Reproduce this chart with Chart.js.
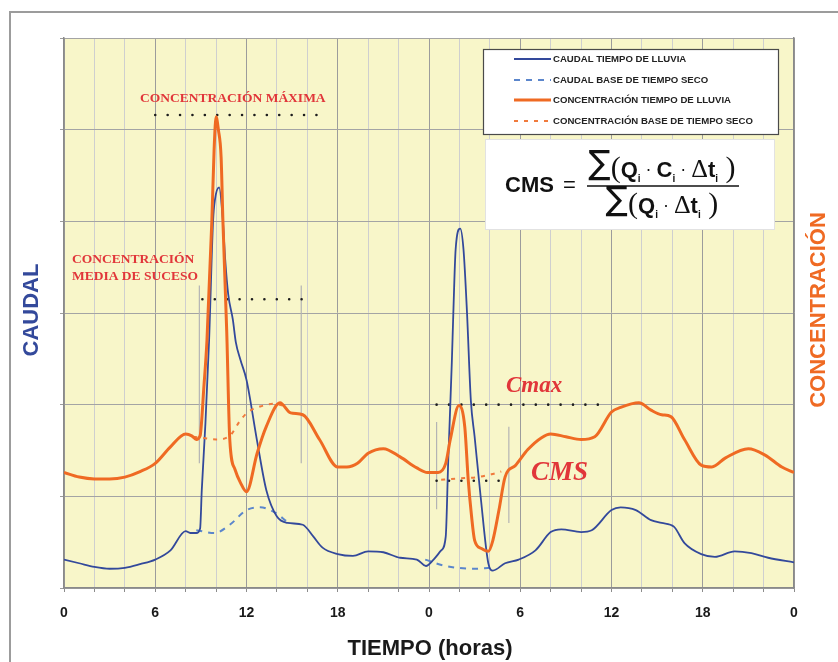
<!DOCTYPE html>
<html>
<head>
<meta charset="utf-8">
<script src="https://cdn.jsdelivr.net/npm/chart.js@4.4.1/dist/chart.umd.min.js"></script>
<style>
  html, body { margin: 0; padding: 0; background: #fff; }
</style>
</head>
<body>
<canvas id="grafico" width="838" height="662"></canvas>
<script>
// horas (eje x de 0 a 48: dos días) y valores
const etiquetasHoras = ["0", "6", "12", "18", "0", "6", "12", "18", "0"];

const horasCaudal = [0, 1, 2, 3, 4, 5, 6, 7, 8, 8.3, 8.7, 8.95, 9.06, 9.3, 9.54, 9.8, 9.93, 10.2, 10.44, 10.6, 10.8, 11.1, 11.3, 11.6, 12, 12.7, 13.3, 14, 14.7, 15.7, 16.4, 17, 18, 19, 20, 21, 22.1, 23.2, 23.8, 24.3, 24.8, 25.1, 25.26, 25.5, 25.6, 25.75, 26.05, 26.27, 26.5, 26.75, 27, 27.4, 27.9, 28.2, 29, 29.9, 31, 32, 32.7, 34, 34.7, 36, 36.6, 37.6, 38.6, 39.3, 40.1, 40.8, 41.9, 42.8, 44.1, 45.2, 46.3, 48];
const caudalLluvia = [0.31, 0.27, 0.23, 0.21, 0.22, 0.26, 0.31, 0.41, 0.62, 0.60, 0.60, 0.65, 1.07, 1.8, 2.7, 4.0, 4.24, 4.37, 4.02, 3.58, 3.2, 2.93, 2.68, 2.49, 2.27, 1.6, 1.07, 0.78, 0.71, 0.69, 0.56, 0.44, 0.37, 0.35, 0.40, 0.39, 0.33, 0.31, 0.24, 0.31, 0.41, 0.56, 1.36, 2.46, 3.0, 3.69, 3.92, 3.69, 3.0, 2.05, 1.65, 0.99, 0.27, 0.19, 0.27, 0.31, 0.41, 0.61, 0.64, 0.61, 0.63, 0.85, 0.88, 0.85, 0.74, 0.71, 0.67, 0.49, 0.37, 0.34, 0.40, 0.38, 0.33, 0.28];

const horasCaudalSeco1 = [8.7, 9.9, 10.9, 12.0, 12.9, 13.8, 14.7];
const caudalSeco1 = [0.63, 0.60, 0.69, 0.85, 0.88, 0.83, 0.72];
const horasCaudalSeco2 = [23.75, 25.1, 27, 28];
const caudalSeco2 = [0.31, 0.24, 0.21, 0.22];

const horasConc = [0, 1, 2, 3, 4, 5, 6, 7, 8, 8.4, 8.7, 8.95, 9.2, 9.4, 9.72, 9.87, 10.0, 10.15, 10.33, 10.45, 10.7, 10.9, 11.25, 11.6, 12.0, 12.7, 13.3, 14.2, 14.9, 15.7, 16.8, 18, 18.6, 19.3, 20, 21, 22.1, 23.2, 23.9, 24.6, 25.1, 25.4, 25.97, 26.35, 26.58, 26.8, 27.0, 27.45, 27.9, 28.2, 28.6, 29, 29.7, 30.5, 31.4, 32, 33, 34, 34.9, 36, 36.6, 37.8, 38.6, 39.3, 39.9, 40.8, 41.9, 42.6, 43.5, 45, 46.1, 47.2, 48];
const concLluvia = [1.26, 1.21, 1.19, 1.19, 1.21, 1.27, 1.36, 1.54, 1.68, 1.66, 1.62, 1.66, 2.2, 2.7, 4.0, 4.78, 5.14, 5.0, 4.7, 4.0, 2.8, 1.62, 1.29, 1.15, 1.05, 1.47, 1.76, 2.02, 1.91, 1.89, 1.62, 1.32, 1.32, 1.36, 1.47, 1.52, 1.43, 1.31, 1.26, 1.26, 1.36, 1.62, 1.99, 1.76, 1.18, 0.78, 0.52, 0.43, 0.40, 0.52, 0.85, 1.21, 1.34, 1.51, 1.64, 1.68, 1.65, 1.62, 1.65, 1.92, 1.97, 2.02, 1.94, 1.89, 1.87, 1.62, 1.34, 1.32, 1.42, 1.52, 1.45, 1.32, 1.26];

const horasConcSeco1 = [8.5, 9.4, 10.0, 10.9, 11.6, 12.1, 12.9, 13.8, 14.4];
const concSeco1 = [1.65, 1.63, 1.62, 1.66, 1.83, 1.92, 1.98, 2.01, 1.99];
const horasConcSeco2 = [24.8, 25.47, 26.35, 27.22, 28.1, 28.75];
const concSeco2 = [1.18, 1.19, 1.20, 1.21, 1.24, 1.27];

// niveles punteados (Cmax y CMS) y líneas verticales de inicio/fin de suceso
const nivelesHoras = [[6.0, 16.7], [9.1, 15.7], [24.5, 35.3], [24.5, 28.8]];
const nivelesValor = [5.16, 3.15, 2.0, 1.17];
const limitesHora = [8.9, 15.6, 24.5, 29.25];
const limitesValor = [[3.3, 1.36], [3.3, 1.36], [1.81, 0.86], [1.76, 0.71]];

const azul = '#33499b';
const azulClaro = '#5b86cc';
const naranja = '#ef6a23';
const rojo = '#e1363a';

function puntos(hs, vs) {
  return hs.map((h, i) => ({ x: h, y: vs[i] }));
}
function conCorte(h1, v1, h2, v2) {
  return puntos(h1, v1).concat([{ x: h1[h1.length - 1], y: null }], puntos(h2, v2));
}

const series = [
  { label: 'CAUDAL TIEMPO DE LLUVIA', data: puntos(horasCaudal, caudalLluvia),
    borderColor: azul, borderWidth: 1.8, yAxisID: 'y' },
  { label: 'CAUDAL BASE DE TIEMPO SECO', data: conCorte(horasCaudalSeco1, caudalSeco1, horasCaudalSeco2, caudalSeco2),
    borderColor: azulClaro, borderWidth: 2, borderDash: [6, 6], yAxisID: 'y' },
  { label: 'CONCENTRACIÓN TIEMPO DE LLUVIA', data: puntos(horasConc, concLluvia),
    borderColor: naranja, borderWidth: 3, yAxisID: 'y1' },
  { label: 'CONCENTRACIÓN BASE DE TIEMPO SECO', data: conCorte(horasConcSeco1, concSeco1, horasConcSeco2, concSeco2),
    borderColor: '#f07a3c', borderWidth: 2, borderDash: [4, 6], yAxisID: 'y1' }
];
// orden de dibujo: naranja encima del azul
const datasets = [series[2], series[3], series[0], series[1]];

nivelesHoras.forEach((hs, i) => {
  datasets.push({
    label: 'nivel', data: puntos(hs, [nivelesValor[i], nivelesValor[i]]),
    borderColor: '#1d1d1d', borderWidth: 2.6, borderDash: [0, 12.4], borderCapStyle: 'round', yAxisID: 'y1'
  });
});
limitesHora.forEach((h, i) => {
  datasets.push({
    label: 'limite', data: puntos([h, h], limitesValor[i]),
    borderColor: '#b4b4b4', borderWidth: 1.2, yAxisID: 'y1'
  });
});
datasets.forEach(d => {
  d.pointRadius = 0;
  d.fill = false;
  d.cubicInterpolationMode = 'monotone';
  d.spanGaps = false;
});

function vertical(ctx, txt, x, y, color) {
  ctx.save();
  ctx.translate(x, y);
  ctx.rotate(-Math.PI / 2);
  ctx.fillStyle = color;
  ctx.fillText(txt, 0, 0);
  ctx.restore();
}

function tramo(ctx, x, y, partes, medir) {
  for (const [t, f, dy] of partes) {
    ctx.font = f;
    if (!medir) ctx.fillText(t, x, y + (dy || 0));
    x += ctx.measureText(t).width;
  }
  return x;
}

const fondo = {
  id: 'fondo',
  beforeDraw(chart) {
    const { ctx, chartArea: a } = chart;
    ctx.save();
    ctx.fillStyle = '#fff';
    ctx.fillRect(0, 0, chart.width, chart.height);
    ctx.strokeStyle = '#9c9c9c';
    ctx.lineWidth = 2;
    ctx.beginPath();
    ctx.moveTo(10, chart.height);
    ctx.lineTo(10, 12);
    ctx.lineTo(chart.width, 12);
    ctx.stroke();
    ctx.fillStyle = '#f8f6c9';
    ctx.fillRect(a.left, a.top, a.width, a.height);
    ctx.restore();
  }
};

const rotulos = {
  id: 'rotulos',
  afterDraw(chart) {
    const ctx = chart.ctx;
    ctx.save();
    ctx.textBaseline = 'middle';
    ctx.textAlign = 'center';
    ctx.font = 'bold 22px "Liberation Sans", Arial, sans-serif';
    ctx.fillStyle = '#1a1a1a';
    ctx.fillText('TIEMPO (horas)', 430, 649);
    vertical(ctx, 'CAUDAL', 32, 310, azul);
    vertical(ctx, 'CONCENTRACIÓN', 819, 310, naranja);

    // anotaciones
    ctx.textAlign = 'left';
    ctx.textBaseline = 'alphabetic';
    ctx.fillStyle = rojo;
    ctx.font = 'bold 13.5px "Liberation Serif", serif';
    ctx.fillText('CONCENTRACIÓN MÁXIMA', 140, 102);
    ctx.fillText('CONCENTRACIÓN', 72, 263);
    ctx.fillText('MEDIA DE SUCESO', 72, 280);
    ctx.font = 'italic bold 23px "Liberation Serif", serif';
    ctx.fillText('Cmax', 506, 392);
    ctx.font = 'italic bold 27px "Liberation Serif", serif';
    ctx.fillText('CMS', 531, 480);

    // leyenda
    ctx.fillStyle = '#fff';
    ctx.fillRect(483.5, 49.5, 295, 85);
    ctx.strokeStyle = '#4a4a4a';
    ctx.lineWidth = 1.2;
    ctx.strokeRect(483.5, 49.5, 295, 85);
    const filas = [59, 80, 100, 121];
    series.forEach((s, i) => {
      ctx.save();
      ctx.strokeStyle = s.borderColor;
      ctx.lineWidth = s.borderWidth;
      ctx.setLineDash(s.borderDash || []);
      ctx.beginPath();
      ctx.moveTo(514, filas[i]);
      ctx.lineTo(551, filas[i]);
      ctx.stroke();
      ctx.restore();
      ctx.fillStyle = '#222';
      ctx.font = 'bold 9.6px "Liberation Sans", Arial, sans-serif';
      ctx.textBaseline = 'middle';
      ctx.fillText(s.label, 553, filas[i] + 0.5);
    });

    // fórmula
    ctx.fillStyle = '#fff';
    ctx.fillRect(485, 139, 290, 91);
    ctx.strokeStyle = '#e2e2e2';
    ctx.lineWidth = 1;
    ctx.strokeRect(485.5, 139.5, 289, 90);
    ctx.fillStyle = '#111';
    ctx.textBaseline = 'alphabetic';
    ctx.font = 'bold 22px "Liberation Sans", Arial, sans-serif';
    ctx.fillText('CMS', 505, 192);
    ctx.font = '22px "Liberation Sans", Arial, sans-serif';
    ctx.fillText('=', 563, 192);
    const fB = 'bold 22px "Liberation Sans", Arial, sans-serif';
    const fS = 'bold 10px "Liberation Sans", Arial, sans-serif';
    const fSig = '33px "DejaVu Sans", sans-serif';
    const fPar = '30px "Liberation Serif", serif';
    const fDot = '18px "Liberation Sans", Arial, sans-serif';
    const fDel = '26px "Liberation Serif", serif';
    const num = [['∑', fSig, -3], ['(', fPar, 0], ['Q', fB, 0], ['i', fS, 5], [' · ', fDot, -2],
      ['C', fB, 0], ['i', fS, 5], [' · ', fDot, -2], ['Δ', fDel, 0], ['t', fB, 0], ['i', fS, 5], [' )', fPar, 0]];
    const den = [['∑', fSig, -3], ['(', fPar, 0], ['Q', fB, 0], ['i', fS, 5], [' · ', fDot, -2],
      ['Δ', fDel, 0], ['t', fB, 0], ['i', fS, 5], [' )', fPar, 0]];
    const cx = 662;
    const wN = tramo(ctx, 0, 0, num, true);
    const wD = tramo(ctx, 0, 0, den, true);
    tramo(ctx, cx - wN / 2, 177, num, false);
    tramo(ctx, cx - wD / 2, 213, den, false);
    ctx.strokeStyle = '#111';
    ctx.lineWidth = 1.4;
    ctx.beginPath();
    ctx.moveTo(587, 186);
    ctx.lineTo(739, 186);
    ctx.stroke();
    ctx.restore();
  }
};

new Chart(document.getElementById('grafico'), {
  type: 'line',
  data: { datasets: datasets },
  options: {
    responsive: false,
    animation: false,
    layout: { padding: { top: 38, left: 0, right: 0, bottom: 0 } },
    plugins: { legend: { display: false }, tooltip: { enabled: false } },
    scales: {
      x: {
        type: 'linear', min: 0, max: 48,
        afterFit(s) { s.height = 74; },
        ticks: {
          stepSize: 2, autoSkip: false, maxRotation: 0, padding: 13,
          color: '#1a1a1a',
          font: { family: '"Liberation Sans", Arial, sans-serif', size: 14, weight: 'bold' },
          callback: v => (v % 6 === 0 ? etiquetasHoras[v / 6] : '')
        },
        grid: {
          color: c => (c.tick && c.tick.value % 6 === 0 ? '#9c9c9c' : '#cfcfcf'),
          lineWidth: 1, tickLength: 4, tickColor: '#8c8c8c'
        },
        border: { color: '#8a8a8a', width: 1.5 }
      },
      y: {
        min: 0, max: 6,
        afterFit(s) { s.width = 64; },
        ticks: { stepSize: 1, callback: () => '', padding: 0 },
        grid: { color: '#a4a4a4', lineWidth: 1, tickLength: 4, tickColor: '#9c9c9c' },
        border: { color: '#8a8a8a', width: 1.5 }
      },
      y1: {
        position: 'right', min: 0, max: 6,
        afterFit(s) { s.width = 44; },
        ticks: { display: false },
        grid: { display: false },
        border: { color: '#8a8a8a', width: 1.5 }
      }
    }
  },
  plugins: [fondo, rotulos]
});
</script>
</body>
</html>
